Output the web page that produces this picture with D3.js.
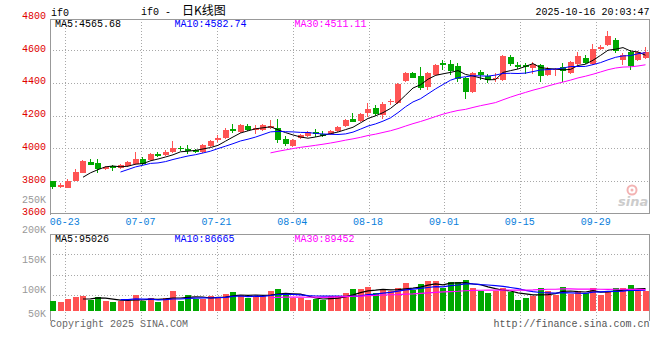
<!DOCTYPE html>
<html><head><meta charset="utf-8">
<script src="https://cdn.jsdelivr.net/npm/d3@7/dist/d3.min.js"></script>
<style>body{margin:0;background:#fff}svg{display:block}</style>
</head><body><svg id="c" width="660" height="360"></svg>
<script>
const dates = ["06-19","06-20","06-23","06-24","06-25","06-26","06-27","06-30",
"07-01","07-02","07-03","07-04","07-07","07-08","07-09","07-10","07-11","07-14","07-15","07-16","07-17","07-18","07-21","07-22","07-23","07-24","07-25","07-28","07-29","07-30","07-31",
"08-01","08-04","08-05","08-06","08-07","08-08","08-11","08-12","08-13","08-14","08-15","08-18","08-19","08-20","08-21","08-22","08-25","08-26","08-27","08-28","08-29",
"09-01","09-02","09-03","09-04","09-05","09-08","09-09","09-10","09-11","09-12","09-15","09-16","09-17","09-18","09-19","09-22","09-23","09-24","09-25","09-26","09-29","09-30",
"10-09","10-10","10-13","10-14","10-15","10-16"];
const open  = [3800,3765,3757,3802,3849,3916,3910,3873,3892,3880,3892,3904,3935,3929,3965,3959,3978,4002,3996,3990,3978,4014,4051,4063,4118,4100,4137,4112,4112,4124,4124,4057,4014,4063,4075,4100,4088,4088,4106,4137,4179,4167,4216,4247,4204,4283,4277,4412,4461,4443,4375,4449,4522,4516,4504,4430,4345,4467,4443,4424,4418,4559,4510,4510,4492,4510,4449,4479,4498,4461,4516,4553,4516,4608,4632,4663,4541,4589,4541,4553];
const high  = [3802,3788,3812,3874,3929,3935,3935,3892,3898,3904,3922,3978,3947,3972,3978,3990,4045,4014,4021,3996,4027,4051,4081,4124,4148,4148,4148,4143,4148,4173,4179,4075,4057,4088,4106,4118,4106,4112,4137,4179,4216,4216,4277,4265,4283,4302,4400,4467,4467,4498,4467,4516,4541,4541,4522,4437,4467,4479,4455,4461,4571,4571,4528,4522,4528,4516,4498,4492,4522,4534,4589,4571,4638,4632,4718,4675,4583,4602,4596,4620];
const low   = [3751,3760,3755,3798,3847,3896,3849,3867,3861,3873,3886,3898,3898,3922,3947,3953,3972,3984,3965,3972,3972,4008,4039,4057,4094,4094,4106,4088,4106,4118,4033,4014,4008,4057,4069,4069,4069,4082,4100,4130,4167,4161,4191,4198,4179,4265,4271,4406,4437,4357,4357,4443,4479,4449,4406,4302,4339,4418,4400,4406,4412,4504,4485,4455,4455,4406,4443,4443,4406,4455,4510,4516,4510,4602,4626,4583,4510,4479,4535,4547];
const close = [3763,3776,3800,3855,3922,3898,3873,3886,3880,3898,3916,3935,3904,3965,3953,3978,4002,3996,3984,3978,4021,4045,4063,4112,4106,4143,4112,4124,4143,4137,4051,4027,4051,4081,4100,4088,4075,4106,4130,4173,4161,4210,4240,4210,4271,4290,4394,4461,4430,4369,4461,4510,4510,4473,4424,4345,4461,4449,4418,4430,4565,4516,4498,4498,4516,4443,4485,4485,4473,4528,4565,4522,4608,4620,4687,4596,4571,4504,4589,4589];
const volume = [81700,80000,85000,88300,90000,83300,88300,81700,80000,81700,81700,91700,81700,86700,80000,86700,98300,81700,91700,85000,85000,90000,86700,93300,96700,91700,86700,90000,90000,98300,101700,91700,86700,86700,83300,85000,83300,90000,90000,95000,101700,101700,105000,95000,101700,98300,103300,111700,100000,110000,115000,115000,103300,113300,113300,116700,103300,98300,95000,98300,103300,96700,83300,86700,90000,103300,98300,91700,105000,93300,98300,95000,103300,91700,96700,103300,103300,108300,98300,98300];
const priceTicks = [3600,3800,4000,4200,4400,4600,4800];
const volTicks = [50000,100000,150000,200000];
const volTickText = ["50K","100K","150K","200K"];
const dateTicks = ["06-23","07-07","07-21","08-04","08-18","09-01","09-15","09-29"];
const maPeriods = [5,10,30];
const maColors = ["#000000","#0000ff","#ff00ff"];
const priceLegend = ["MA5:4565.68","MA10:4582.74","MA30:4511.11"];
const volLegend = ["MA5:95026","MA10:86665","MA30:89452"];
const symbol = "if0";
const titleText = "if0 - ";
const titleCJK = "日K线图";
const stamp = "2025-10-16 20:03:47";

const UP = "#ff5454", DOWN = "#00a800", GRID = "#a8a8a8", FRAME = "#999999";
const MONO = "'Liberation Mono','DejaVu Sans Mono',monospace";
const L = 50, R = 649.5, mTop = 19, mBot = 213.5, vTop = 234, vBase = 311, vBot = 315, vGridBot = 321;

const svg = d3.select("#c");
const n = dates.length;
const x = d3.scaleBand().domain(dates).range([49.25, 649.25]).paddingInner(0.2).paddingOuter(0.1);
const xg = d3.scaleLinear().domain([0, n - 1]).range([L, 649.3]);
const y = d3.scaleLinear().domain([3600, 4800]).range([213.7, 17.6]);
const yv = d3.scaleLinear().domain([0, 200000]).range([350, 230]);
const bw = x.bandwidth();
const bx = d => Math.round(x(d));
const cx = d => Math.round(x(d)) + 2.5;

const data = dates.map((d, i) => ({d, i, o: open[i], h: high[i], l: low[i], c: close[i], v: volume[i]}));
const col = r => r.c >= r.o ? UP : DOWN;

// grid lines
const g = svg.append("g").attr("stroke", GRID).attr("stroke-dasharray", "1,2").attr("shape-rendering", "crispEdges");
priceTicks.filter(t => t > 3600 && t < 4800).forEach(t => {
  const yy = Math.round(y(t)) + 0.5;
  g.append("line").attr("x1", L).attr("x2", R).attr("y1", yy).attr("y2", yy);
});
[1, 2, 3].forEach(k => {
  const yy = Math.round(vTop + k * (vBot - vTop) / 4) + 0.5;
  g.append("line").attr("x1", L).attr("x2", R).attr("y1", yy).attr("y2", yy);
});
dateTicks.forEach(t => {
  const xx = Math.round(xg(dates.indexOf(t))) + 0.5;
  g.append("line").attr("x1", xx).attr("x2", xx).attr("y1", mTop).attr("y2", mBot);
  g.append("line").attr("x1", xx).attr("x2", xx).attr("y1", vTop).attr("y2", vGridBot);
});

// frames
const f = svg.append("g").attr("stroke", FRAME).attr("fill", "none").attr("shape-rendering", "crispEdges");
f.append("line").attr("x1", 50.5).attr("x2", 50.5).attr("y1", mTop).attr("y2", mBot + 1);
f.append("line").attr("x1", L).attr("x2", 650).attr("y1", 19.5).attr("y2", 19.5);
f.append("line").attr("x1", L).attr("x2", 650).attr("y1", 213.5).attr("y2", 213.5);
f.append("line").attr("x1", 649.5).attr("x2", 649.5).attr("y1", mTop).attr("y2", mBot);
f.append("line").attr("x1", 50.5).attr("x2", 50.5).attr("y1", vTop).attr("y2", vGridBot);
f.append("line").attr("x1", L).attr("x2", 650).attr("y1", 234.5).attr("y2", 234.5);
f.append("line").attr("x1", 649.5).attr("x2", 649.5).attr("y1", vTop).attr("y2", vGridBot);

// watermark
const wm = svg.append("g");
wm.append("circle").attr("cx", 632).attr("cy", 190).attr("r", 4.5).attr("fill", "none").attr("stroke", "#f3b3b3").attr("stroke-width", 2);
wm.append("circle").attr("cx", 632).attr("cy", 190).attr("r", 1.5).attr("fill", "#f3b3b3");
wm.append("text").attr("x", 618).attr("y", 206).attr("font-family", "'DejaVu Sans',sans-serif").attr("font-size", 13).attr("font-weight", "bold").attr("font-style", "italic").attr("fill", "#cccccc").text("sina");

// candles
const cg = svg.append("g").attr("shape-rendering", "crispEdges");
cg.selectAll("line.w").data(data).join("line")
  .attr("x1", r => cx(r.d)).attr("x2", r => cx(r.d))
  .attr("y1", r => y(r.h)).attr("y2", r => y(r.l))
  .attr("stroke", col);
cg.selectAll("rect.b").data(data).join("rect")
  .attr("x", r => bx(r.d)).attr("width", bw)
  .attr("y", r => Math.round(y(Math.max(r.o, r.c))))
  .attr("height", r => Math.max(1, Math.round(Math.abs(y(r.o) - y(r.c)))))
  .attr("fill", col);

// volume bars
svg.append("g").attr("shape-rendering", "crispEdges").selectAll("rect").data(data).join("rect")
  .attr("x", r => bx(r.d)).attr("width", bw)
  .attr("y", r => Math.round(yv(r.v))).attr("height", r => vBase - Math.round(yv(r.v)))
  .attr("fill", col);

// moving averages
function ma(arr, p) {
  return arr.map((_, i) => i < p - 1 ? null : d3.mean(arr.slice(i - p + 1, i + 1)));
}
maPeriods.forEach((p, k) => {
  const pm = ma(close, p), vm = ma(volume, p);
  const lp = d3.line().defined(d => d[1] != null).x(d => x(d[0]) + bw / 2).y(d => y(d[1]));
  const lv = d3.line().defined(d => d[1] != null).x(d => x(d[0]) + bw / 2).y(d => yv(d[1]));
  svg.append("path").attr("d", lp(dates.map((d, i) => [d, pm[i]]))).attr("fill", "none").attr("stroke", maColors[k]).attr("stroke-width", 1);
  svg.append("path").attr("d", lv(dates.map((d, i) => [d, vm[i]]))).attr("fill", "none").attr("stroke", maColors[k]).attr("stroke-width", 1.2);
});

// texts
const T = (xx, yy, s, fill, anchor, size) => svg.append("text").attr("x", xx).attr("y", yy)
  .attr("font-family", MONO).attr("font-size", size || 10).attr("fill", fill).attr("text-anchor", anchor || "start").text(s);

priceTicks.forEach(t => T(46, y(t) + 1.5, String(t), "#e00000", "end"));
volTicks.forEach((t, k) => T(46, Math.min(yv(t), 313.5) + 3, volTickText[k], "#999999", "end"));
T(46, 203, "250K", "#999999", "end");
dateTicks.forEach(t => T(xg(dates.indexOf(t)) - 0.5, 225, t, "#0a80dc", "middle"));

const legX = [55, 174.5, 294.5];
priceLegend.forEach((s, k) => T(legX[k], 26.7, s, maColors[k]));
volLegend.forEach((s, k) => T(legX[k], 241.7, s, maColors[k]));

T(51, 16, symbol, "#000");
const tt = T(141, 15, titleText, "#000");
tt.append("tspan").attr("dx", 5).attr("font-family", "'Noto Sans CJK SC',sans-serif").attr("font-size", 12).text(titleCJK);
T(649.5, 15, stamp, "#000", "end");
T(50, 327, "Copyright 2025 SINA.COM", "#666666");
T(649.5, 327, "http://finance.sina.com.cn", "#555555", "end");
</script></body></html>
